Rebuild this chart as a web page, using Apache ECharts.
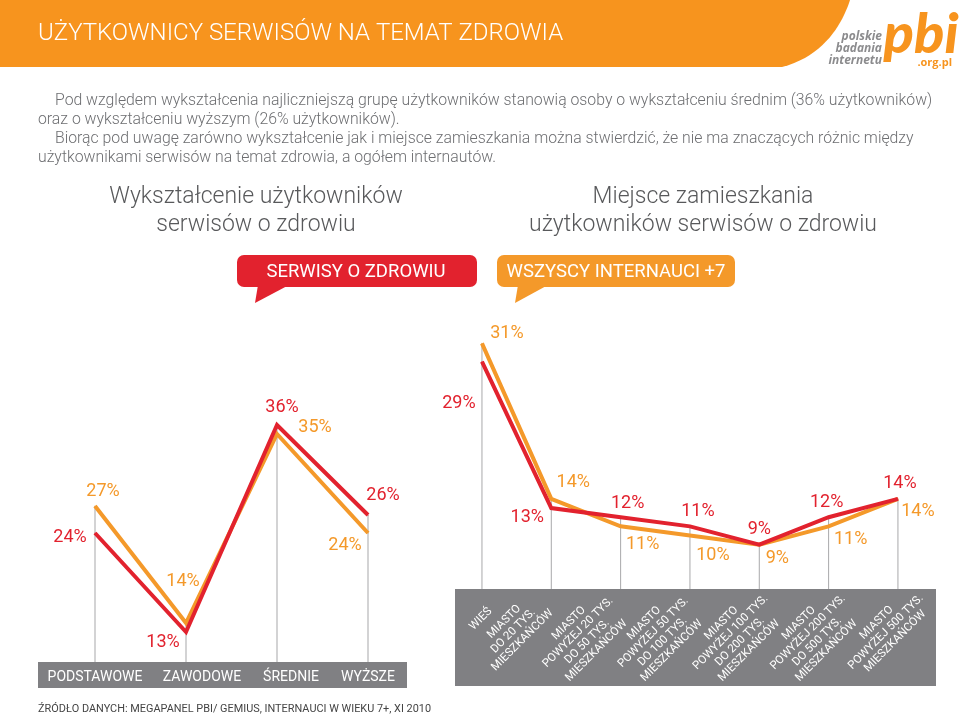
<!DOCTYPE html>
<html><head><meta charset="utf-8">
<script src="https://cdn.jsdelivr.net/npm/echarts@6/dist/echarts.min.js"></script>
<style>html,body{margin:0;padding:0;background:#fff}#c{width:960px;height:716px}</style>
</head><body><div id="c"></div>
<script>
// ---- data ----
const eduCats = ['PODSTAWOWE', 'ZAWODOWE', 'ŚREDNIE', 'WYŻSZE'];
const eduHealth = [24, 13, 36, 26];   // SERWISY O ZDROWIU
const eduAll = [27, 14, 35, 24];      // WSZYSCY INTERNAUCI +7
const placeCats = [
  'WIEŚ',
  'MIASTO\nDO 20 TYS.\nMIESZKAŃCÓW',
  'MIASTO\nPOWYŻEJ 20 TYS.\nDO 50 TYS.\nMIESZKAŃCÓW',
  'MIASTO\nPOWYŻEJ 50 TYS.\nDO 100 TYS.\nMIESZKAŃCÓW',
  'MIASTO\nPOWYŻEJ 100 TYS.\nDO 200 TYS.\nMIESZKAŃCÓW',
  'MIASTO\nPOWYŻEJ 200 TYS.\nDO 500 TYS.\nMIESZKAŃCÓW',
  'MIASTO\nPOWYŻEJ 500 TYS.\nMIESZKAŃCÓW'
];
const placeHealth = [29, 13, 12, 11, 9, 12, 14];
const placeAll = [31, 14, 11, 10, 9, 11, 14];
const seriesNames = ['SERWISY O ZDROWIU', 'WSZYSCY INTERNAUCI +7'];

// ---- styling ----
const RED = '#e2222e', ORANGE = '#f4992a', BAND = '#808083', VLINE = '#a8a8aa';
const FONT = 'Roboto';
const eduHealthOff = [[-25, 4], [-23, 10], [5, -18], [15, -20]];
const eduAllOff = [[8, -15], [-3, -42], [38, -7], [-23, 12]];
const placeHealthOff = [[-23, 42], [-24, 9], [7, -14], [8, -15], [0, -15], [-2, -15], [2, -15]];
const placeAllOff = [[25, -10], [22, -16], [22, 18], [23, 20], [18, 14], [22, 13], [20, 13]];
const eduCatPad = [[0, 0, 0, 0], [0, 0, 0, 32], [0, 0, 0, 28], [0, 0, 0, 0]];
// screen shift of each rotated place label block centre from (tick, axis + margin), px
const placeLabelShift = [[-1, -18], [-38, -6], [-38, 0], [-32, 0], [-24, 0], [-16, 0], [-12, -5]];
const PLACE_FS = 11.5;

function labelled(vals, offs, color) {
  return vals.map((v, i) => ({ value: v, label: { offset: offs[i], color: color } }));
}
function lineSeries(name, vals, offs, color, axis, z) {
  return {
    name: name, type: 'line', xAxisIndex: axis, yAxisIndex: axis, z: z,
    data: labelled(vals, offs, color), symbol: 'circle', symbolSize: 1, showSymbol: true,
    itemStyle: { color: color }, lineStyle: { color: color, width: 4, join: 'miter' },
    label: { show: true, position: 'inside', formatter: '{c}%', fontFamily: FONT, fontSize: 18, fontWeight: 400 },
    silent: true
  };
}
function maxOf(a, b) { return a.map((v, i) => Math.max(v, b[i])); }

// padding (in the rotated frame) that moves a 45°-rotated, centred label by (dx, dy) on screen
function shiftPadding(dx, dy) {
  const a = 0.7071 * (dx - dy);      // along text direction
  const b = -0.7071 * (dx + dy);     // towards text top
  return [b < 0 ? -2 * b : 0, a < 0 ? -2 * a : 0, b > 0 ? 2 * b : 0, a > 0 ? 2 * a : 0];
}

// per-category rich styles: fixed width = widest line, so lines are centred in the block
const measureCtx = document.createElement('canvas').getContext('2d');
measureCtx.font = PLACE_FS + 'px ' + FONT;
const placeRich = {};
placeCats.forEach((c, i) => {
  const w = Math.ceil(Math.max.apply(null, c.split('\n').map(s => measureCtx.measureText(s).width)));
  placeRich['c' + i] = { width: w, align: 'center', color: '#ffffff', fontFamily: FONT, fontSize: PLACE_FS, lineHeight: 13 };
});

// banner outline with curved right edge (cubic bezier sampled)
function bannerPoints() {
  const p0 = [850, 0], p1 = [843, 22], p2 = [825, 56], p3 = [782, 67];
  const pts = [[0, 0]];
  for (let k = 0; k <= 20; k++) {
    const t = k / 20, u = 1 - t;
    pts.push([
      u * u * u * p0[0] + 3 * u * u * t * p1[0] + 3 * u * t * t * p2[0] + t * t * t * p3[0],
      u * u * u * p0[1] + 3 * u * u * t * p1[1] + 3 * u * t * t * p2[1] + t * t * t * p3[1]
    ]);
  }
  pts.push([0, 67]);
  return pts;
}

const chart = echarts.init(document.getElementById('c'), null, { renderer: 'canvas' });
const paraStyle = { fill: '#6d6e71', fontFamily: FONT, fontSize: 15.8, fontWeight: 300, verticalAlign: 'middle' };
function txt(text, x, y, extra) { return { type: 'text', z: 30, x: x, y: y, style: Object.assign({ text: text }, paraStyle, extra || {}) }; }

chart.setOption({
  animation: false,
  backgroundColor: '#ffffff',
  grid: [
    { left: 49.5, width: 364, top: 389, bottom: 39, outerBoundsMode: 'none' },
    { left: 447.3, width: 485.3, top: 334.2, bottom: 125.6, outerBoundsMode: 'none' }
  ],
  xAxis: [
    { type: 'category', gridIndex: 0,
      data: eduCats.map((c, i) => ({ value: c, textStyle: { padding: eduCatPad[i], align: 'center', verticalAlign: 'middle' } })),
      axisLine: { show: false }, axisTick: { show: false }, z: 20,
      axisLabel: { color: '#ffffff', fontFamily: FONT, fontSize: 14, margin: 0, interval: 0 } },
    { type: 'category', gridIndex: 1,
      data: placeCats.map((c, i) => ({ value: c, textStyle: {
        padding: shiftPadding(placeLabelShift[i][0], placeLabelShift[i][1]), align: 'center', verticalAlign: 'middle' } })),
      axisLine: { show: false }, axisTick: { show: false }, z: 20,
      axisLabel: { color: '#ffffff', fontFamily: FONT, fontSize: PLACE_FS, rotate: 45, margin: 46.6, interval: 0,
        align: 'center', verticalAlign: 'middle',
        formatter: (v, i) => v.split('\n').map(s => '{c' + i + '|' + s + '}').join('\n'),
        rich: placeRich } }
  ],
  yAxis: [
    { type: 'value', gridIndex: 0, min: 8, max: 40, show: false },
    { type: 'value', gridIndex: 1, min: 4, max: 32, show: false }
  ],
  series: [
    { type: 'bar', xAxisIndex: 0, yAxisIndex: 0, data: maxOf(eduHealth, eduAll), barWidth: 1, itemStyle: { color: VLINE }, z: 1, silent: true },
    { type: 'bar', xAxisIndex: 1, yAxisIndex: 1, data: maxOf(placeHealth, placeAll), barWidth: 1, itemStyle: { color: VLINE }, z: 1, silent: true },
    lineSeries(seriesNames[1], eduAll, eduAllOff, ORANGE, 0, 6),
    lineSeries(seriesNames[0], eduHealth, eduHealthOff, RED, 0, 7),
    lineSeries(seriesNames[1], placeAll, placeAllOff, ORANGE, 1, 6),
    lineSeries(seriesNames[0], placeHealth, placeHealthOff, RED, 1, 7)
  ],
  graphic: [
    { type: 'polygon', z: 3, shape: { points: bannerPoints() }, style: { fill: '#f7941e' } },
    txt('UŻYTKOWNICY SERWISÓW NA TEMAT ZDROWIA', 38, 34, { fill: '#ffffff', fontSize: 24, fontWeight: 300 }),
    // logo
    txt('polskie', 882, 37, { fill: '#8c8c8e', fontSize: 12, fontWeight: 'bold', fontStyle: 'italic', align: 'right', fontFamily: 'Open Sans' }),
    txt('badania', 882, 49, { fill: '#8c8c8e', fontSize: 12, fontWeight: 'bold', fontStyle: 'italic', align: 'right', fontFamily: 'Open Sans' }),
    txt('internetu', 882, 61, { fill: '#8c8c8e', fontSize: 12, fontWeight: 'bold', fontStyle: 'italic', align: 'right', fontFamily: 'Open Sans' }),
    txt('pbi', 921, 35, { fill: '#f7941e', fontSize: 56, fontWeight: 900, fontStyle: 'italic', align: 'center', fontFamily: 'Lato' }),
    txt('.org.pl', 952, 63, { fill: '#f7941e', fontSize: 11, fontWeight: 'bold', align: 'right', fontFamily: 'Open Sans' }),
    // paragraph
    txt('Pod względem wykształcenia najliczniejszą grupę użytkowników stanowią osoby o wykształceniu średnim (36% użytkowników)', 55, 101),
    txt('oraz o wykształceniu wyższym (26% użytkowników).', 38, 120),
    txt('Biorąc pod uwagę zarówno wykształcenie jak i miejsce zamieszkania można stwierdzić, że nie ma znaczących różnic między', 55, 139),
    txt('użytkownikami serwisów na temat zdrowia, a ogółem internautów.', 38, 158),
    // chart titles
    txt('Wykształcenie użytkowników', 256, 197, { fontSize: 23, fill: '#58595b', align: 'center' }),
    txt('serwisów o zdrowiu', 256, 225, { fontSize: 23, fill: '#58595b', align: 'center' }),
    txt('Miejsce zamieszkania', 703, 197, { fontSize: 23, fill: '#58595b', align: 'center' }),
    txt('użytkowników serwisów o zdrowiu', 703, 225, { fontSize: 23, fill: '#58595b', align: 'center' }),
    // legend callouts
    { type: 'rect', z: 30, shape: { x: 237, y: 255, width: 240, height: 32, r: 7 }, style: { fill: RED } },
    { type: 'polygon', z: 30, shape: { points: [[258, 285], [255, 303], [289, 285]] }, style: { fill: RED } },
    txt(seriesNames[0], 356, 272, { fill: '#ffffff', fontSize: 18.5, fontWeight: 400, align: 'center' }),
    { type: 'rect', z: 30, shape: { x: 497, y: 255, width: 238, height: 32, r: 7 }, style: { fill: ORANGE } },
    { type: 'polygon', z: 30, shape: { points: [[518, 285], [515, 303], [548, 285]] }, style: { fill: ORANGE } },
    txt(seriesNames[1], 616, 272, { fill: '#ffffff', fontSize: 18.5, fontWeight: 400, align: 'center' }),
    // axis bands
    { type: 'rect', z: 3, shape: { x: 38, y: 662, width: 369, height: 26 }, style: { fill: BAND } },
    { type: 'rect', z: 3, shape: { x: 455, y: 589, width: 481, height: 97 }, style: { fill: BAND } },
    // source
    txt('ŹRÓDŁO DANYCH: MEGAPANEL PBI/ GEMIUS, INTERNAUCI W WIEKU 7+, XI 2010', 38, 709, { fontSize: 10.9, fill: '#444444', fontWeight: 400 })
  ]
});
</script></body></html>
